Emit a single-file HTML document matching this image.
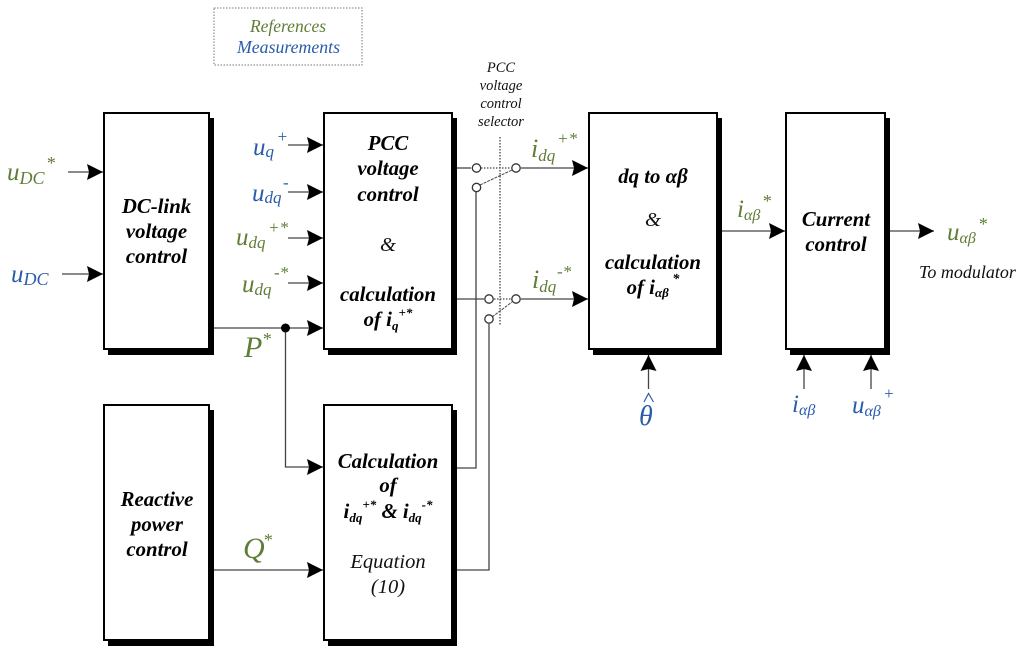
<!DOCTYPE html>
<html><head><meta charset="utf-8">
<style>
html,body{margin:0;padding:0;background:#fff}
svg{display:block}
text{font-family:"Liberation Serif",serif;font-style:italic}
.b{font-weight:bold;font-size:20.8px;fill:#000;text-anchor:middle}
.n{font-size:20.5px;fill:#111;text-anchor:middle}
.g{fill:#5f7d36}
.u{fill:#2a5caa}
.l{stroke:#444;stroke-width:1.3;fill:none}
.box{fill:#fff;stroke:#000;stroke-width:2}
.c{fill:#fff;stroke:#333;stroke-width:1.3}
</style></head><body>
<svg width="1024" height="655" viewBox="0 0 1024 655" xmlns="http://www.w3.org/2000/svg">
<defs><marker id="a" markerUnits="userSpaceOnUse" markerWidth="17" markerHeight="17" refX="16" refY="8" orient="auto"><path d="M0 0L16 8L0 16L2 8Z" fill="#000"/></marker></defs>

<rect x="214" y="8" width="148" height="57" fill="#fff" stroke="#777" stroke-width="1" stroke-dasharray="1.5 1.5"/>
<text x="288" y="32" font-size="17.5" text-anchor="middle" class="g">References</text>
<text x="288.500" y="53" font-size="17.8" text-anchor="middle" class="u">Measurements</text>

<!-- shadows -->
<rect x="108" y="118" width="106" height="237"/>
<rect x="328" y="118" width="129" height="237"/>
<rect x="593" y="118" width="129" height="237"/>
<rect x="790" y="118" width="100" height="237"/>
<rect x="108" y="410" width="106" height="236"/>
<rect x="328" y="410" width="129" height="236"/>
<!-- boxes -->
<rect class="box" x="104" y="113" width="105" height="236"/>
<rect class="box" x="324" y="113" width="128" height="236"/>
<rect class="box" x="589" y="113" width="128" height="236"/>
<rect class="box" x="786" y="113" width="99" height="236"/>
<rect class="box" x="104" y="405" width="105" height="235"/>
<rect class="box" x="324" y="405" width="128" height="235"/>

<!-- connectors -->
<g class="l">
<path d="M68 172H103" marker-end="url(#a)"/>
<path d="M62 274H103" marker-end="url(#a)"/>
<path d="M288 145H323" marker-end="url(#a)"/>
<path d="M288 192H323" marker-end="url(#a)"/>
<path d="M288 238H323" marker-end="url(#a)"/>
<path d="M288 283H323" marker-end="url(#a)"/>
<path d="M214 328H323" marker-end="url(#a)"/>
<path d="M285.500 328V467H323" marker-end="url(#a)"/>
<path d="M214 570H323" marker-end="url(#a)"/>
<path d="M457 468H476V192"/>
<path d="M457 570H489V324"/>
<path d="M457 168H471"/>
<path d="M457 299H484"/>
<path d="M521 168H588" marker-end="url(#a)"/>
<path d="M521 299H588" marker-end="url(#a)"/>
<path d="M722 231H785" marker-end="url(#a)"/>
<path d="M890 231H934" marker-end="url(#a)"/>
<path d="M648.500 389V355" marker-end="url(#a)"/>
<path d="M804 389V355" marker-end="url(#a)"/>
<path d="M871 389V355" marker-end="url(#a)"/>
<path d="M481 168H511M494 299H511" stroke-dasharray="1.500 1.500"/>
<path d="M500 137V326" stroke-dasharray="1.500 1.500"/>
<path d="M480 185L512 170M492 317L512 302" stroke-width="1" stroke-dasharray="3 1"/>
</g>
<circle cx="285.500" cy="328" r="4.500" fill="#000"/>
<circle class="c" cx="476.500" cy="168" r="4.200"/>
<circle class="c" cx="516" cy="168" r="4.200"/>
<circle class="c" cx="476.500" cy="187.500" r="4.200"/>
<circle class="c" cx="489" cy="299" r="4.200"/>
<circle class="c" cx="516" cy="299" r="4.200"/>
<circle class="c" cx="489" cy="319" r="4.200"/>

<!-- block labels -->
<text class="b" x="156.500" y="213">DC-link</text>
<text class="b" x="156.500" y="238">voltage</text>
<text class="b" x="156.500" y="263">control</text>

<text class="b" x="388" y="150">PCC</text>
<text class="b" x="388" y="175">voltage</text>
<text class="b" x="388" y="201">control</text>
<text class="n" x="388" y="251">&amp;</text>
<text class="b" x="388" y="301">calculation</text>
<text class="b" x="388" y="326">of i<tspan font-size="13" dy="4">q</tspan><tspan font-size="13" dy="-13">+*</tspan></text>

<text class="b" x="653" y="183">dq to αβ</text>
<text class="n" x="653" y="226">&amp;</text>
<text class="b" x="653" y="269">calculation</text>
<text class="b" x="653" y="294">of i<tspan font-size="13" dy="3">αβ</tspan><tspan font-size="14" dy="-14"> *</tspan></text>

<text class="b" x="836" y="226">Current</text>
<text class="b" x="836" y="251">control</text>

<text class="b" x="157" y="506">Reactive</text>
<text class="b" x="157" y="531">power</text>
<text class="b" x="157" y="556">control</text>

<text class="b" x="388" y="468">Calculation</text>
<text class="b" x="388" y="492">of</text>
<text class="b" x="388" y="518">i<tspan font-size="13" dy="4">dq</tspan><tspan font-size="13" dy="-13">+*</tspan><tspan dy="9"> &amp; i</tspan><tspan font-size="13" dy="4">dq</tspan><tspan font-size="13" dy="-13">-*</tspan></text>
<text class="n" x="388" y="568">Equation</text>
<text class="n" x="388" y="593">(10)</text>

<text font-size="14.500" text-anchor="middle" fill="#111"><tspan x="501" y="72">PCC</tspan><tspan x="501" y="90">voltage</tspan><tspan x="501" y="108">control</tspan><tspan x="501" y="126">selector</tspan></text>
<text x="919" y="278" font-size="18" fill="#111">To modulator</text>

<!-- signals -->
<g class="g">
<text x="7" y="180" font-size="25">u<tspan font-size="18" dy="4">DC</tspan></text><text x="46" y="169" font-size="18">*</text>
<text x="236" y="245" font-size="25">u<tspan font-size="17" dy="3">dq</tspan></text><text x="268" y="233" font-size="17">+*</text>
<text x="242" y="292" font-size="25">u<tspan font-size="17" dy="3">dq</tspan></text><text x="274" y="278" font-size="17">-*</text>
<text x="244" y="357" font-size="30">P</text><text x="262" y="345" font-size="18">*</text>
<text x="243" y="558" font-size="30">Q</text><text x="263" y="546" font-size="18">*</text>
<text x="531" y="157" font-size="26">i<tspan font-size="17" dy="4">dq</tspan></text><text x="557" y="144" font-size="17">+*</text>
<text x="532" y="288" font-size="26">i<tspan font-size="17" dy="4">dq</tspan></text><text x="557" y="277" font-size="17">-*</text>
<text x="737" y="217" font-size="25">i<tspan font-size="16" dy="3">αβ</tspan></text><text x="762" y="207" font-size="18">*</text>
<text x="947" y="240" font-size="25">u<tspan font-size="16" dy="3">αβ</tspan></text><text x="978" y="230" font-size="18">*</text>
</g>
<g class="u">
<text x="11" y="282" font-size="25">u<tspan font-size="18" dy="3">DC</tspan></text>
<text x="253" y="155" font-size="25">u<tspan font-size="17" dy="2">q</tspan></text><text x="276.500" y="142" font-size="17">+</text>
<text x="252" y="201" font-size="25">u<tspan font-size="17" dy="2">dq</tspan></text><text x="283" y="188" font-size="17">-</text>
<text x="639" y="425" font-size="28">θ</text>
<text x="792" y="412" font-size="25">i<tspan font-size="16" dy="3">αβ</tspan></text>
<text x="852" y="413" font-size="25">u<tspan font-size="16" dy="3">αβ</tspan></text><text x="883" y="399" font-size="17">+</text>
</g>
<path d="M644 402L648.500 393.500L653.500 402" fill="none" stroke="#2a5caa" stroke-width="1.200"/>
</svg>
</body></html>
